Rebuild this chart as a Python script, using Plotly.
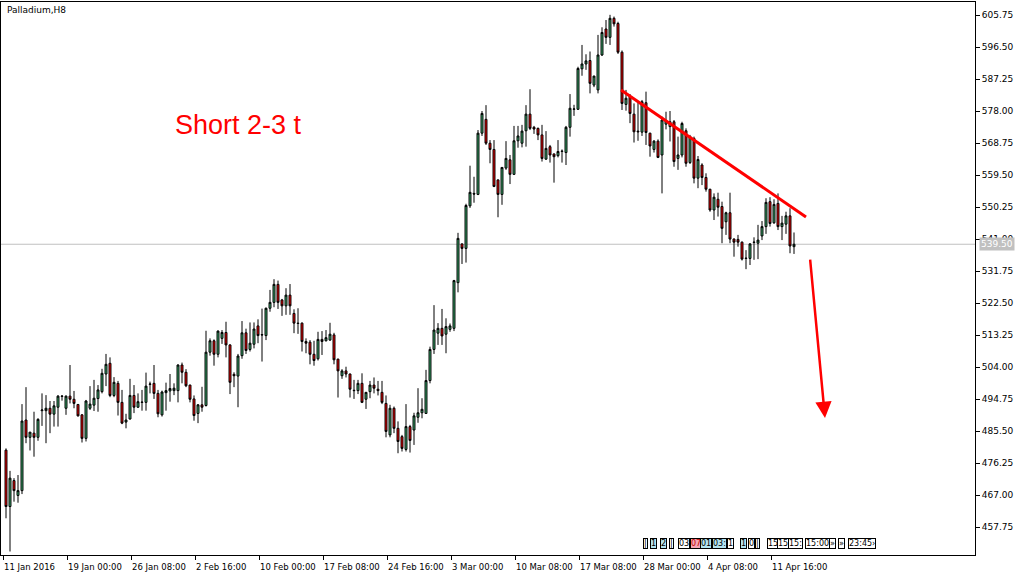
import plotly.graph_objects as go

# ---------------- data (Palladium, H8) ----------------
opens = [480.0, 463.7, 471.2, 466.9, 468.3, 488.7, 483.7, 484.9, 483.7, 491.4,
         491.4, 492.1, 490.4, 492.4, 495.5, 492.1, 495.6, 494.7, 493.2, 490.2,
         483.4, 492.1, 493.0, 494.9, 496.9, 502.0, 505.1, 495.8, 499.3, 493.8,
         488.1, 489.0, 495.8, 492.4, 493.9, 493.8, 499.0, 499.3, 496.4, 490.2,
         496.6, 497.1, 497.2, 497.2, 504.6, 502.5, 498.8, 494.8, 490.6, 493.1,
         492.9, 508.3, 511.6, 507.7, 512.3, 514.0, 510.4, 501.9, 501.4, 507.3,
         513.9, 509.1, 510.6, 515.9, 513.4, 513.1, 521.0, 522.7, 527.9, 523.4,
         521.7, 524.8, 519.5, 516.7, 516.7, 511.4, 511.2, 507.7, 506.4, 512.0,
         511.6, 511.8, 513.3, 506.3, 501.5, 502.9, 502.0, 497.3, 497.2, 499.3,
         494.7, 496.9, 498.8, 497.6, 496.7, 493.5, 484.4, 492.1, 486.3, 483.9,
         480.2, 486.8, 485.8, 489.5, 490.8, 490.6, 500.1, 509.1, 513.8, 515.2,
         513.5, 514.9, 515.2, 528.4, 539.6, 538.3, 550.6, 554.2, 553.9, 571.6,
         575.6, 568.7, 566.9, 558.1, 553.9, 561.5, 563.9, 559.7, 569.4, 568.7,
         572.3, 577.1, 573.3, 573.0, 571.1, 564.1, 567.7, 565.6, 565.1, 566.3,
         566.0, 573.3, 578.5, 578.5, 590.2, 591.6, 592.6, 585.5, 584.1, 594.2,
         601.7, 599.3, 604.8, 603.3, 595.0, 579.9, 582.3, 577.1, 572.2, 571.9,
         580.4, 571.6, 566.9, 569.3, 565.3, 574.2, 573.5, 574.9, 564.3, 565.3,
         572.3, 563.1, 570.1, 558.6, 562.4, 558.8, 555.4, 549.4, 552.5, 550.4,
         546.0, 548.6, 541.0, 540.9, 540.1, 535.5, 535.4, 540.0, 539.8, 541.9,
         544.6, 551.8, 545.7, 551.3, 544.6, 545.3, 547.7, 538.8]
highs = [480.5, 474.0, 471.9, 472.8, 493.3, 498.2, 485.2, 491.1, 489.2, 496.4,
         495.9, 494.2, 494.2, 495.9, 495.9, 495.8, 504.6, 497.1, 493.3, 490.4,
         494.5, 498.5, 500.3, 498.8, 503.5, 507.8, 506.8, 501.1, 500.0, 497.4,
         490.5, 500.6, 498.8, 496.4, 497.4, 502.4, 499.8, 504.6, 497.4, 497.2,
         499.5, 502.0, 499.3, 504.8, 505.3, 503.4, 498.9, 495.8, 493.3, 498.3,
         514.5, 512.3, 512.0, 514.6, 514.7, 517.1, 510.6, 502.5, 507.8, 517.3,
         515.1, 516.9, 516.9, 517.8, 520.9, 521.2, 526.3, 529.4, 529.0, 523.7,
         526.8, 528.0, 520.7, 521.0, 516.9, 512.3, 511.8, 511.6, 514.2, 514.4,
         514.7, 516.8, 513.9, 506.4, 503.4, 504.1, 502.1, 500.3, 500.3, 502.2,
         496.8, 500.0, 501.0, 500.0, 500.0, 495.8, 493.1, 492.6, 488.3, 484.4,
         493.3, 487.3, 490.8, 497.9, 495.0, 503.2, 509.9, 521.9, 516.7, 520.8,
         518.1, 516.6, 529.2, 542.8, 539.7, 551.2, 562.2, 559.0, 572.5, 578.0,
         579.7, 569.6, 569.6, 558.2, 561.8, 569.3, 565.3, 573.7, 573.7, 574.0,
         579.7, 584.3, 573.7, 573.2, 574.0, 572.2, 568.2, 565.7, 569.6, 566.9,
         573.7, 582.9, 579.8, 590.8, 597.1, 594.4, 595.2, 588.2, 600.0, 602.2,
         604.3, 605.8, 605.3, 603.8, 595.5, 584.1, 582.9, 580.2, 580.7, 581.2,
         583.6, 571.7, 569.6, 569.8, 576.4, 577.8, 578.0, 575.4, 570.6, 574.9,
         573.0, 571.1, 570.6, 565.0, 562.9, 560.0, 555.5, 554.2, 554.4, 551.8,
         548.9, 554.4, 541.2, 542.2, 540.3, 537.8, 539.8, 541.5, 545.1, 546.2,
         552.8, 553.1, 552.5, 554.2, 547.7, 548.9, 549.9, 542.9]
lows = [460.3, 450.7, 465.1, 464.8, 467.3, 482.0, 479.9, 478.1, 482.7, 487.0,
        482.0, 484.9, 486.8, 486.8, 494.3, 490.2, 493.5, 492.1, 489.7, 482.2,
        482.5, 491.6, 491.3, 491.1, 496.4, 498.5, 495.3, 495.3, 490.0, 487.5,
        486.3, 488.8, 490.7, 492.2, 491.4, 491.4, 496.4, 494.8, 489.5, 489.7,
        491.4, 494.0, 495.9, 493.8, 499.3, 498.2, 493.8, 488.5, 487.8, 491.1,
        492.6, 507.3, 504.4, 506.8, 510.7, 506.8, 496.2, 498.2, 492.4, 506.4,
        507.8, 508.5, 509.4, 510.9, 505.6, 511.8, 520.0, 521.3, 520.8, 518.8,
        519.1, 519.1, 513.8, 513.6, 508.5, 508.0, 504.8, 504.4, 505.9, 507.5,
        511.4, 511.6, 504.8, 495.2, 500.6, 501.0, 495.2, 494.8, 496.2, 493.6,
        491.9, 495.0, 496.4, 495.8, 493.3, 483.7, 483.7, 484.9, 479.1, 479.6,
        479.6, 479.3, 481.5, 487.9, 489.2, 490.5, 499.3, 507.8, 510.4, 510.4,
        508.0, 514.2, 514.4, 525.6, 533.8, 534.2, 550.0, 551.5, 553.7, 570.8,
        568.2, 562.9, 556.0, 547.3, 550.9, 561.0, 556.9, 559.5, 567.4, 567.5,
        567.7, 572.5, 571.4, 569.6, 563.4, 563.9, 563.1, 557.3, 564.6, 563.1,
        562.4, 570.6, 576.6, 578.3, 588.2, 589.9, 583.1, 584.9, 583.1, 593.9,
        597.4, 597.1, 602.4, 594.5, 578.3, 578.1, 574.5, 568.9, 569.4, 570.8,
        568.2, 564.8, 566.0, 564.4, 554.2, 572.7, 569.2, 561.9, 561.0, 564.6,
        561.9, 562.7, 557.1, 555.7, 556.6, 554.7, 548.9, 546.5, 547.5, 539.8,
        542.2, 539.8, 535.9, 538.8, 534.8, 532.3, 533.5, 535.0, 535.2, 540.7,
        542.5, 544.6, 545.4, 543.6, 540.7, 542.5, 536.9, 536.7]
closes = [463.7, 471.9, 468.3, 468.3, 488.4, 483.7, 485.2, 483.7, 488.9, 491.6,
          492.1, 490.4, 492.8, 495.6, 495.6, 495.6, 494.7, 493.5, 489.9, 483.4,
          494.2, 493.3, 495.0, 497.4, 502.2, 504.8, 495.8, 499.6, 493.8, 487.8,
          488.7, 495.8, 492.4, 494.0, 493.8, 498.5, 499.1, 496.4, 490.5, 496.8,
          497.2, 497.8, 497.9, 504.6, 502.5, 498.6, 494.7, 490.0, 493.1, 492.4,
          508.3, 511.6, 507.7, 514.4, 514.0, 510.4, 499.6, 501.5, 507.2, 513.9,
          508.8, 510.9, 515.0, 513.1, 513.3, 521.0, 522.7, 527.9, 522.7, 521.7,
          524.8, 521.7, 516.7, 516.6, 511.4, 510.9, 507.7, 505.9, 512.0, 511.4,
          512.5, 513.5, 506.1, 502.9, 502.9, 502.0, 497.6, 497.2, 499.3, 493.8,
          496.7, 498.8, 497.9, 497.2, 493.8, 485.4, 492.1, 486.3, 482.5, 480.5,
          486.8, 482.8, 489.9, 490.8, 491.8, 500.1, 509.1, 514.7, 515.2, 513.0,
          515.7, 515.9, 529.0, 541.2, 538.3, 550.7, 554.5, 554.0, 571.6, 577.3,
          568.7, 566.9, 556.2, 553.9, 561.7, 564.3, 559.7, 569.4, 570.8, 572.2,
          577.1, 573.0, 572.8, 571.1, 564.3, 567.2, 565.3, 564.8, 566.3, 566.4,
          573.3, 578.8, 578.6, 590.3, 591.6, 592.5, 586.0, 588.1, 594.2, 600.7,
          599.3, 604.8, 603.2, 595.0, 580.2, 581.7, 577.3, 572.0, 572.0, 580.7,
          571.8, 567.9, 569.3, 564.6, 575.4, 575.2, 574.9, 563.4, 565.3, 574.4,
          562.9, 570.6, 558.6, 564.0, 558.8, 555.4, 549.4, 553.1, 550.2, 544.1,
          548.6, 541.0, 540.1, 540.1, 535.2, 535.4, 539.6, 540.1, 540.7, 544.6,
          551.6, 545.5, 551.0, 544.6, 545.6, 547.7, 539.0, 539.5]

time_labels = ["11 Jan 2016", "19 Jan 00:00", "26 Jan 08:00", "2 Feb 16:00",
               "10 Feb 00:00", "17 Feb 08:00", "24 Feb 16:00", "3 Mar 00:00",
               "10 Mar 08:00", "17 Mar 08:00", "28 Mar 00:00", "4 Apr 08:00",
               "11 Apr 16:00"]
label_bars = [0, 16, 32, 48, 64, 80, 96, 112, 128, 144, 160, 176, 192]

price_ticks = [457.75, 467.00, 476.25, 485.50, 494.75, 504.00, 513.25, 522.50,
               531.75, 541.00, 550.25, 559.50, 568.75, 578.00, 587.25, 596.50, 605.75]
last_price = 539.50

# trend line (bar index, price) and forecast arrow
trend_x = [153.75, 200.0]
trend_y = [584.1, 547.4]
arrow_tail = (201.0, 535.5)
arrow_head = (204.75, 489.3)

# ---------------- figure ----------------
W, H = 1023, 578
ML, MR, MT, MB = 1, 48, 2, 23
PW, PH = W - ML - MR, H - MT - MB
FONT = "DejaVu Sans"

bars = list(range(len(opens)))

fig = go.Figure()
fig.add_trace(go.Candlestick(
    x=bars, open=opens, high=highs, low=lows, close=closes,
    increasing=dict(line=dict(color="black", width=1), fillcolor="#3cb371"),
    decreasing=dict(line=dict(color="black", width=1), fillcolor="#ff0000"),
    whiskerwidth=0, hoverinfo="skip", showlegend=False,
))

shapes = [
    dict(type="line", xref="paper", yref="y", x0=0, x1=1, y0=last_price, y1=last_price,
         line=dict(color="#c0c0c0", width=1), layer="below"),
    dict(type="line", xref="x", yref="y", x0=trend_x[0], y0=trend_y[0],
         x1=trend_x[1], y1=trend_y[1], line=dict(color="#ff0000", width=3)),
]

annotations = []
tick_pos = [b - 0.75 for b in label_bars]
for tp, txt in zip(tick_pos, time_labels):
    annotations.append(dict(x=tp, y=0, xref="x", yref="paper", text=txt,
                            showarrow=False, xanchor="left", yanchor="top",
                            yshift=-5, xshift=-1,
                            font=dict(family=FONT, size=8.5, color="black")))

annotations.append(dict(x=1, y=last_price, xref="paper", yref="y", text=f"{last_price:.2f}",
                        showarrow=False, xanchor="left", yanchor="middle", xshift=4,
                        bgcolor="#c0c0c0", borderpad=1,
                        font=dict(family=FONT, size=9, color="white")))

annotations.append(dict(x=0, y=1, xref="paper", yref="paper", text="Palladium,H8",
                        showarrow=False, xanchor="left", yanchor="top", xshift=4, yshift=-1,
                        font=dict(family=FONT, size=9, color="black")))

annotations.append(dict(x=58, y=574.0, xref="x", yref="y", text="Short 2-3 t",
                        showarrow=False, xanchor="center", yanchor="middle",
                        font=dict(family="Liberation Sans", size=27, color="#ff0000")))

annotations.append(dict(x=arrow_head[0], y=arrow_head[1], ax=arrow_tail[0], ay=arrow_tail[1],
                        xref="x", yref="y", axref="x", ayref="y", text="",
                        showarrow=True, arrowhead=2, arrowsize=1.3, arrowwidth=2.5,
                        arrowcolor="#ff0000", standoff=0))

# event markers on the time axis (bottom right)
def px_x(px):
    return (px - ML) / PW

def px_y(py):
    return (H - MB - py) / PH

events = [
    (643, "|", "white", "black"), (650, "1", "#b4e4ef", "black"), (660, "2", "#b4e4ef", "black"),
    (669, "|", "white", "black"), (678, "03", "white", "black"), (690, "07", "#f4a6b4", "#c00000"),
    (700, "01", "#b4e4ef", "black"), (712, "03:", "#b4e4ef", "black"), (727, "1", "white", "black"),
    (740, "1", "#b4e4ef", "black"), (748, "0", "white", "black"), (755, "|", "white", "black"),
    (767, "15", "white", "black"), (777, "15", "white", "black"), (788, "15:", "white", "black"),
    (805, "15:00", "white", "black"), (829, "\u00bb", "white", "black"), (838, "\u00bb", "white", "black"),
    (848, "23:45\u203a", "white", "black"),
]
for px, txt, bg, fc in events:
    annotations.append(dict(x=px_x(px), y=px_y(543), xref="paper", yref="paper", text=txt,
                            showarrow=False, xanchor="left", yanchor="middle",
                            bgcolor=bg, bordercolor="black", borderwidth=1, borderpad=0,
                            font=dict(family=FONT, size=8, color=fc)))

fig.update_layout(
    width=W, height=H,
    margin=dict(l=ML, r=MR, t=MT, b=MB, pad=0),
    paper_bgcolor="white", plot_bgcolor="white",
    shapes=shapes, annotations=annotations,
    xaxis=dict(range=[-1.25, 242.25], showgrid=False, zeroline=False,
               showline=True, mirror=True, linecolor="black", linewidth=1,
               ticks="outside", ticklen=4, tickcolor="black",
               tickvals=tick_pos, showticklabels=False,
               rangeslider=dict(visible=False), fixedrange=True),
    yaxis=dict(range=[449.69, 609.51], side="right", showgrid=False, zeroline=False,
               showline=True, mirror=True, linecolor="black", linewidth=1,
               ticks="outside", ticklen=4, tickcolor="black",
               tickvals=price_ticks, ticktext=[f"{v:.2f}" for v in price_ticks],
               tickfont=dict(family=FONT, size=9, color="black"), fixedrange=True),
)

fig.write_html("out.html", config={"displayModeBar": False},
               post_script="document.body.style.margin='0';document.body.style.overflow='hidden';")
